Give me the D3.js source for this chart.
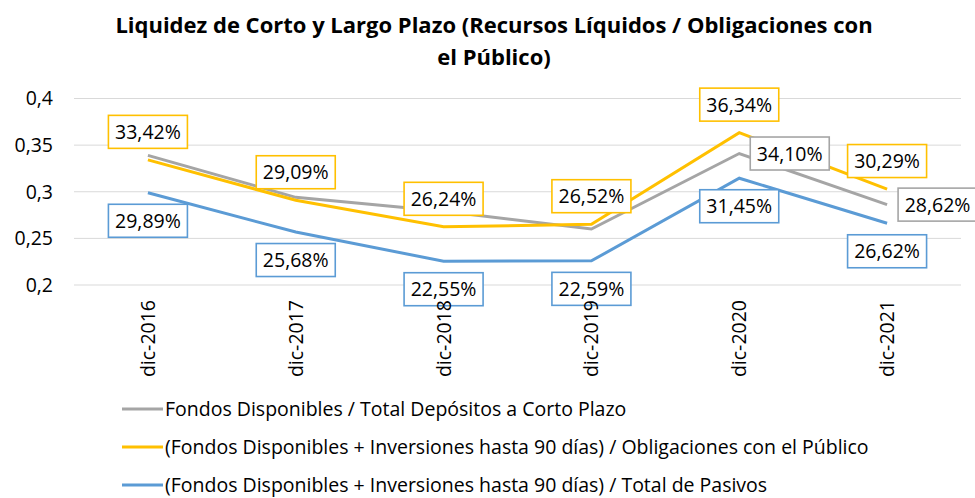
<!DOCTYPE html>
<html>
<head>
<meta charset="utf-8">
<title>Liquidez de Corto y Largo Plazo</title>
<style>
  body { margin: 0; background: #fff; }
  svg { font-family: "Open Sans", Lato, sans-serif; }
  .title { font-weight: bold; font-size: 22px; fill: #000; text-anchor: middle; }
  .grid line { stroke: #d9d9d9; stroke-width: 1px; }
  .tick-label { font-size: 19.5px; fill: #000; }
  .val-label { font-size: 19.5px; fill: #000; text-anchor: middle; }
  .legend text { font-size: 19.5px; fill: #000; }
</style>
</head>
<body>
<svg width="975" height="498"></svg>
<script src="https://d3js.org/d3.v7.min.js"></script>
<script>

// Data
var categories = ["dic-2016", "dic-2017", "dic-2018", "dic-2019", "dic-2020", "dic-2021"];
var fondosCortoPlazo = [0.339, 0.294, 0.279, 0.260, 0.3410, 0.2862];
var obligacionesPublico = [0.3342, 0.2909, 0.2624, 0.2652, 0.3634, 0.3029];
var totalPasivos = [0.2989, 0.2568, 0.2255, 0.2259, 0.3145, 0.2662];
var yTicks = [0.2, 0.25, 0.3, 0.35, 0.4];
var seriesNames = [
  "Fondos Disponibles / Total Depósitos a Corto Plazo",
  "(Fondos Disponibles + Inversiones hasta 90 días) / Obligaciones con el Público",
  "(Fondos Disponibles + Inversiones hasta 90 días) / Total de Pasivos"
];

var series = [
  {name: seriesNames[0], values: fondosCortoPlazo, color: "#a5a5a5", labelPos: "right", labelIdx: [4, 5]},
  {name: seriesNames[1], values: obligacionesPublico, color: "#ffc000", labelPos: "above", labelIdx: [0, 1, 2, 3, 4, 5]},
  {name: seriesNames[2], values: totalPasivos, color: "#5b9bd5", labelPos: "below", labelIdx: [0, 1, 2, 3, 4, 5]}
];

var svg = d3.select("svg");

var x = d3.scaleBand().domain(categories).range([74, 961]);
var y = d3.scaleLinear().domain([0.2, 0.4]).range([285, 98.5]);

// Title
svg.append("text").attr("class", "title").attr("x", 494).attr("y", 33)
  .text("Liquidez de Corto y Largo Plazo (Recursos Líquidos / Obligaciones con");
svg.append("text").attr("class", "title").attr("x", 494).attr("y", 65)
  .text("el Público)");

// Grid
svg.append("g").attr("class", "grid")
  .selectAll("line").data(yTicks).enter().append("line")
  .attr("x1", 74).attr("x2", 961)
  .attr("y1", function(d) { return y(d); })
  .attr("y2", function(d) { return y(d); });

// Y axis labels
svg.append("g").selectAll("text").data(yTicks).enter().append("text")
  .attr("class", "tick-label")
  .attr("x", 53).attr("y", function(d) { return y(d); })
  .attr("dy", "0.35em").attr("text-anchor", "end")
  .text(function(d) { return String(d).replace(".", ","); });

// Lines
var line = d3.line()
  .x(function(d, i) { return x(categories[i]) + x.bandwidth() / 2; })
  .y(function(d) { return y(d); });

svg.append("g").selectAll("path").data(series).enter().append("path")
  .attr("fill", "none")
  .attr("stroke", function(d) { return d.color; })
  .attr("stroke-width", 3)
  .attr("d", function(d) { return line(d.values); });

// Data labels
var fmt = function(v) { return (v * 100).toFixed(2).replace(".", ",") + "%"; };
var boxW = 79, boxH = 33;
var labels = svg.append("g");
series.forEach(function(s) {
  s.labelIdx.forEach(function(i) {
    var px = x(categories[i]) + x.bandwidth() / 2, py = y(s.values[i]);
    var cx = px, cy = py;
    if (s.labelPos === "above") cy = py - 28;
    if (s.labelPos === "below") cy = py + 28;
    if (s.labelPos === "right") cx = px + 11 + boxW / 2;
    var g = labels.append("g");
    g.append("rect")
      .attr("x", cx - boxW / 2).attr("y", cy - boxH / 2)
      .attr("width", boxW).attr("height", boxH)
      .attr("fill", "#fff").attr("stroke", s.color).attr("stroke-width", 1.6);
    g.append("text").attr("class", "val-label")
      .attr("x", cx).attr("y", cy).attr("dy", "0.36em")
      .text(fmt(s.values[i]));
  });
});

// X axis labels (rotated)
svg.append("g").selectAll("text").data(categories).enter().append("text")
  .attr("class", "tick-label")
  .attr("text-anchor", "end")
  .attr("transform", function(d) {
    return "translate(" + (x(d) + x.bandwidth() / 2 + 7) + ",300) rotate(-90)";
  })
  .text(function(d) { return d; });

// Legend
var legend = svg.append("g").attr("class", "legend");
var rows = legend.selectAll("g").data(series).enter().append("g")
  .attr("transform", function(d, i) { return "translate(0," + (409 + i * 38) + ")"; });
rows.append("line")
  .attr("x1", 122).attr("x2", 163).attr("y1", 0).attr("y2", 0)
  .attr("stroke", function(d) { return d.color; }).attr("stroke-width", 3);
rows.append("text").attr("x", 165).attr("dy", "0.35em")
  .text(function(d) { return d.name; });

</script>
</body>
</html>
